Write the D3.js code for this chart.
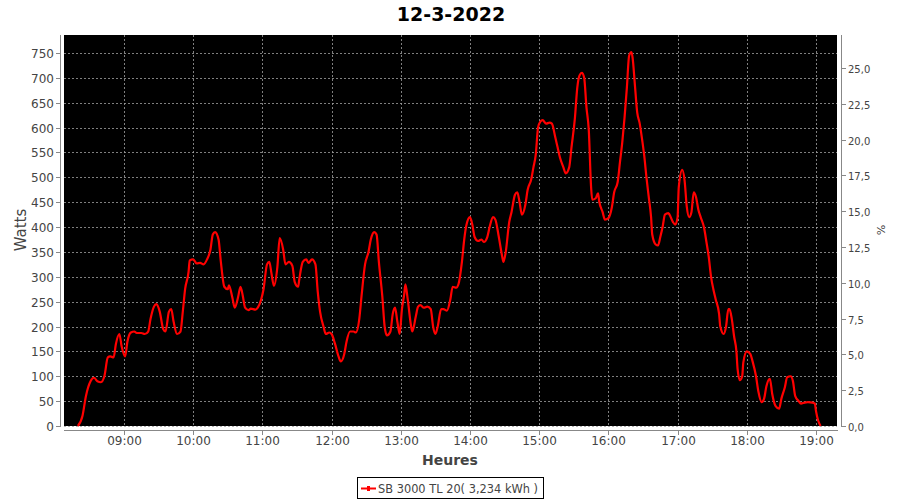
<!DOCTYPE html>
<html><head><meta charset="utf-8">
<script src="https://cdn.jsdelivr.net/npm/d3@7"></script>
<style>body{margin:0;background:#fff}svg{display:block}</style>
</head><body>
<svg id="c" width="900" height="500"></svg>
<script>
const title = "12-3-2022";
const seriesName = "SB 3000 TL 20( 3,234 kWh )";
const xTickLabels = ["09:00","10:00","11:00","12:00","13:00","14:00","15:00","16:00","17:00","18:00","19:00"];
const yTicks = [0,50,100,150,200,250,300,350,400,450,500,550,600,650,700,750];
const y2Ticks = [0,2.5,5,7.5,10,12.5,15,17.5,20,22.5,25];
const times = ["08:20","08:24","08:27","08:31","08:34","08:37","08:40","08:43","08:46","08:48","08:51","08:53","08:56","08:58","09:01","09:03","09:06","09:09","09:11","09:15","09:18","09:21","09:23","09:26","09:28","09:31","09:34","09:36","09:39","09:41","09:43","09:46","09:49","09:51","09:53","09:56","09:57","10:00","10:03","10:06","10:09","10:12","10:15","10:17","10:19","10:22","10:24","10:27","10:30","10:31","10:34","10:36","10:39","10:41","10:43","10:45","10:48","10:50","10:54","10:56","10:59","11:01","11:04","11:06","11:08","11:10","11:13","11:15","11:18","11:20","11:23","11:26","11:28","11:31","11:32","11:35","11:38","11:40","11:43","11:46","11:48","11:50","11:53","11:55","11:58","12:00","12:03","12:06","12:08","12:11","12:13","12:16","12:19","12:21","12:24","12:26","12:29","12:32","12:34","12:37","12:39","12:41","12:44","12:46","12:48","12:51","12:53","12:55","12:57","12:59","13:01","13:03","13:04","13:06","13:09","13:10","13:13","13:15","13:17","13:20","13:23","13:26","13:28","13:30","13:32","13:35","13:37","13:40","13:43","13:45","13:48","13:50","13:53","13:55","13:57","14:00","14:02","14:04","14:07","14:10","14:12","14:15","14:17","14:20","14:22","14:25","14:28","14:29","14:31","14:34","14:36","14:39","14:41","14:43","14:45","14:48","14:50","14:53","14:55","14:57","14:59","15:01","15:03","15:06","15:09","15:11","15:14","15:16","15:18","15:21","15:23","15:26","15:28","15:31","15:33","15:35","15:37","15:39","15:41","15:43","15:45","15:46","15:49","15:51","15:52","15:55","15:57","16:00","16:03","16:05","16:08","16:10","16:12","16:14","16:16","16:18","16:20","16:21","16:23","16:25","16:27","16:29","16:31","16:33","16:35","16:37","16:38","16:41","16:43","16:45","16:47","16:49","16:52","16:53","16:56","16:58","17:00","17:01","17:04","17:06","17:08","17:10","17:12","17:14","17:16","17:18","17:20","17:23","17:25","17:27","17:29","17:31","17:33","17:36","17:37","17:40","17:42","17:44","17:45","17:47","17:49","17:51","17:52","17:54","17:56","17:57","18:00","18:03","18:05","18:08","18:10","18:13","18:15","18:17","18:20","18:22","18:25","18:28","18:30","18:33","18:35","18:38","18:40","18:42","18:45","18:47","18:50","18:53","18:57","18:59","19:00","19:02","19:04"];
const watts = [0,20,60,90,97,90,88,100,138,140,138,165,185,160,140,170,188,190,187,187,185,190,215,240,245,230,195,190,230,235,210,185,190,230,275,310,333,335,327,328,325,335,355,385,390,375,330,280,275,283,258,238,260,280,262,238,233,236,234,238,255,275,325,330,305,282,320,378,355,325,330,322,290,280,295,330,335,328,335,325,270,230,200,185,188,185,165,140,130,145,170,190,190,188,215,262,325,350,375,390,385,330,260,200,182,190,225,238,210,185,235,265,285,255,200,190,220,240,243,238,240,235,200,185,200,235,235,232,255,280,278,285,330,375,405,420,405,380,372,375,370,380,400,420,415,380,340,330,350,410,430,465,470,450,425,445,475,495,520,545,600,612,615,608,610,608,580,560,540,520,508,520,560,620,680,705,710,700,640,595,480,455,458,468,452,430,415,418,440,470,490,530,570,620,680,745,752,740,685,630,610,580,545,500,460,420,385,365,363,380,400,425,428,425,410,405,420,480,515,495,440,420,430,470,460,435,420,398,370,340,300,275,255,225,200,185,200,235,235,215,180,150,115,92,100,128,150,145,130,100,70,48,55,80,95,65,40,35,55,78,98,100,90,60,50,45,47,48,47,45,30,10,0];

const toMin = s => { const [h,m] = s.split(":").map(Number); return h*60+m; };
const data = times.map((t,i)=>({t:toMin(t), w:watts[i]}));

const svg = d3.select("#c");
const L=64, R=837, T=35, B=426;
const x = d3.scaleLinear().domain([488, 1158.2]).range([L,R]);
const y = d3.scaleLinear().domain([0, 786.2]).range([B,T]);
const y2 = d3.scaleLinear().domain([0, 27.3]).range([B,T]);
const font = "'DejaVu Sans', sans-serif";
const txt = "#444";

svg.append("text").attr("x",451).attr("y",21).attr("text-anchor","middle")
  .attr("font-family",font).attr("font-weight","bold").attr("font-size",19).attr("fill","#000").text(title);

svg.append("rect").attr("x",L).attr("y",T).attr("width",R-L).attr("height",B-T).attr("fill","#000");

const grid = svg.append("g").attr("stroke","#a0a0a0").attr("stroke-width",0.8).attr("stroke-dasharray","2,2");
yTicks.forEach(v=>grid.append("line").attr("x1",L).attr("x2",R).attr("y1",Math.round(y(v))+0.5).attr("y2",Math.round(y(v))+0.5));
xTickLabels.forEach(s=>grid.append("line").attr("x1",Math.round(x(toMin(s)))+0.5).attr("x2",Math.round(x(toMin(s)))+0.5).attr("y1",T).attr("y2",B));

const line = d3.line().x(d=>x(d.t)).y(d=>y(d.w)).curve(d3.curveMonotoneX);
svg.append("path").datum(data).attr("d",line).attr("fill","none").attr("stroke","#ff0000").attr("stroke-width",2.2).attr("stroke-linejoin","round");

// left axis
const ax = svg.append("g").attr("font-family",font).attr("font-size",12).attr("fill",txt);
ax.append("line").attr("x1",60.5).attr("x2",60.5).attr("y1",T).attr("y2",B+1).attr("stroke","#888");
yTicks.forEach(v=>{
  const yy=Math.round(y(v))+0.5;
  ax.append("line").attr("x1",56).attr("x2",60).attr("y1",yy).attr("y2",yy).attr("stroke","#888");
  ax.append("text").attr("x",54).attr("y",yy+4).attr("text-anchor","end").text(v);
});
// right axis
ax.append("line").attr("x1",841.5).attr("x2",841.5).attr("y1",T).attr("y2",B+1).attr("stroke","#888");
y2Ticks.forEach(v=>{
  const yy=Math.round(y2(v))+0.5;
  ax.append("line").attr("x1",842).attr("x2",846).attr("y1",yy).attr("y2",yy).attr("stroke","#888");
  ax.append("text").attr("x",848).attr("y",yy+4).attr("font-size",10).text(v.toFixed(1).replace(".",","));
});
// bottom axis
ax.append("line").attr("x1",L).attr("x2",R+1).attr("y1",430.5).attr("y2",430.5).attr("stroke","#888");
xTickLabels.forEach(s=>{
  const xx=Math.round(x(toMin(s)))+0.5;
  ax.append("line").attr("x1",xx).attr("x2",xx).attr("y1",431).attr("y2",435).attr("stroke","#888");
  ax.append("text").attr("x",xx).attr("y",445).attr("text-anchor","middle").text(s);
});
// axis titles
svg.append("text").attr("transform","translate(26,230) rotate(-90)").attr("text-anchor","middle")
  .attr("font-family",font).attr("font-size",15).attr("fill",txt).text("Watts");
svg.append("text").attr("x",450).attr("y",465).attr("text-anchor","middle")
  .attr("font-family",font).attr("font-weight","bold").attr("font-size",14).attr("fill",txt).text("Heures");
svg.append("text").attr("transform","translate(877,230) rotate(90)").attr("text-anchor","middle")
  .attr("font-family",font).attr("font-size",11).attr("fill",txt).text("%");

// legend
const lg = svg.append("g");
lg.append("rect").attr("x",357.5).attr("y",477.5).attr("width",186).attr("height",21).attr("fill","#fff").attr("stroke","#000");
lg.append("line").attr("x1",361).attr("x2",376).attr("y1",488.5).attr("y2",488.5).attr("stroke","#ff0000").attr("stroke-width",2);
lg.append("rect").attr("x",367).attr("y",486).attr("width",3).attr("height",5).attr("fill","#ff0000");
lg.append("text").attr("x",378).attr("y",493).attr("font-family",font).attr("font-size",11.5)
  .attr("textLength",160).attr("lengthAdjust","spacingAndGlyphs").attr("fill",txt).text(seriesName);
</script>
</body></html>
